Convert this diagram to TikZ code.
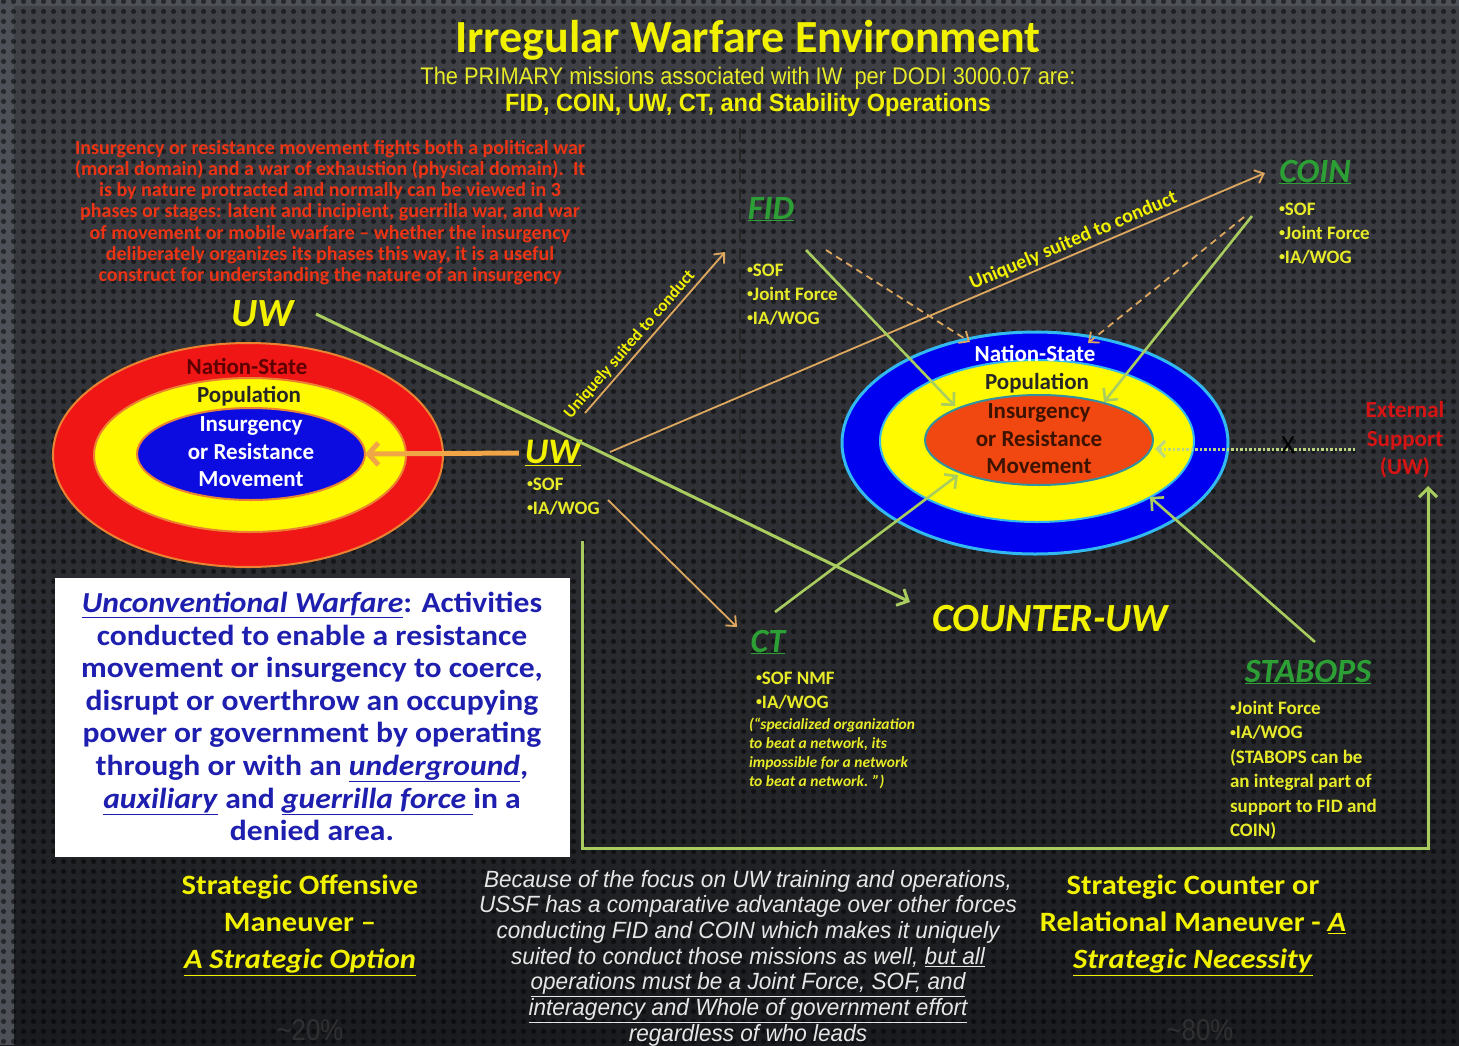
\documentclass[tikz,border=0pt]{standalone}
\usepackage{fontspec}
\setmainfont{Carlito}
\newfontfamily\narrowfont[FakeStretch=0.86]{Liberation Sans}
\newfontfamily\subfont[FakeStretch=0.91]{Liberation Sans}
\newfontfamily\subbfont[FakeStretch=0.94]{Liberation Sans}
\newfontfamily\midfont[FakeStretch=0.96]{Liberation Sans}
\newfontfamily\widecarl[FakeStretch=1.09]{Carlito}
\usetikzlibrary{arrows.meta,shapes.geometric,patterns.meta}
\definecolor{bgtop}{RGB}{64,66,72}
\definecolor{bgbot}{RGB}{26,27,30}
\definecolor{edgegray}{RGB}{78,80,88}
\definecolor{ylw}{RGB}{242,242,0}
\definecolor{pylw}{RGB}{232,236,40}
\definecolor{grn}{RGB}{44,160,52}
\definecolor{lgrn}{RGB}{170,205,95}
\definecolor{tanc}{RGB}{222,168,95}
\definecolor{redtxt}{RGB}{236,52,20}
\definecolor{extred}{RGB}{215,20,20}
\definecolor{boxblue}{RGB}{30,30,175}
\definecolor{lred}{RGB}{240,22,22}
\definecolor{lorange}{RGB}{235,130,50}
\definecolor{yfill}{RGB}{255,250,0}
\definecolor{bfill}{RGB}{12,12,225}
\definecolor{rblue}{RGB}{0,0,240}
\definecolor{skyb}{RGB}{50,185,240}
\definecolor{rorange}{RGB}{240,72,16}
\definecolor{tealb}{RGB}{50,145,160}
\definecolor{maroon}{RGB}{95,0,0}
\definecolor{brownd}{RGB}{60,18,0}
\definecolor{uworange}{RGB}{240,165,70}
\definecolor{greytxt}{RGB}{230,230,230}
\definecolor{pct}{RGB}{48,48,50}
\newcommand{\bul}{\raisebox{2.5pt}{\fontsize{12}{12}\selectfont\textbullet}}
\tikzdeclarepattern{
  name=bgdots,
  type=uncolored,
  bounding box={(0pt,0pt) and (10pt,10pt)},
  tile size={(10pt,10pt)},
  code={\fill (5pt,5pt) circle (2.8pt);}
}
\tikzset{
  txt/.style={inner sep=0pt, outer sep=0pt},
  mission/.style={txt, text=grn, font=\fontsize{34}{36}\selectfont\bfseries\itshape},
  bullets/.style={txt, text=pylw, align=left, anchor=north west, font=\fontsize{19}{24}\selectfont\bfseries},
  ring/.style={ellipse, inner sep=0pt, outer sep=0pt},
  ringtxt/.style={txt, font=\fontsize{23}{24}\selectfont\bfseries},
  garrow/.style={draw=lgrn, line width=3pt, -{Straight Barb[length=9pt,width=18pt]}},
  oarrow/.style={draw=tanc, line width=1.8pt, -{Straight Barb[length=8pt,width=14pt]}},
  darrow/.style={draw=tanc, line width=1.8pt, dash pattern=on 7pt off 5pt, -{Straight Barb[length=8pt,width=14pt]}},
  rotlabel/.style={txt, text=ylw, font=\bfseries},
  strat/.style={txt, text=ylw, align=center, anchor=north, font=\widecarl\fontsize{28}{37}\selectfont\bfseries},
}
\begin{document}
\begin{tikzpicture}[x=1pt,y=-1pt]
\useasboundingbox (0,0) rectangle (1459,1045);
% background
\shade[top color=bgtop, bottom color=bgbot] (0,0) rectangle (1459,1045);
\fill[edgegray] (0,0) rectangle (14,1045);
\fill[edgegray] (0,0) rectangle (1459,6);
\fill[pattern=bgdots, pattern color=black, opacity=0.5] (0,0) rectangle (1459,1045);
\draw[black!85, line width=1.5pt, dash pattern=on 14pt off 6pt] (740,128) -- (740,870);

% title
\node[txt, text=ylw, font=\fontsize{46}{50}\selectfont\bfseries] (title) at (748,40) {Irregular Warfare Environment};
\node[txt, text=pylw, font=\subfont\fontsize{24}{26}\selectfont] (sub1) at (748,78) {The PRIMARY missions associated with IW\ \ per DODI 3000.07 are:};
\node[txt, text=ylw, font=\subbfont\fontsize{25}{26}\selectfont\bfseries] (sub2) at (748,105) {FID, COIN, UW, CT, and Stability Operations};

% red paragraph
\node[txt, text=redtxt, align=center, anchor=north, font=\fontsize{20}{21.3}\selectfont\bfseries] (para) at (330,140) {Insurgency or resistance movement fights both a political war\\(moral domain) and a war of exhaustion (physical domain).\ \ It\\is by nature protracted and normally can be viewed in 3\\phases or stages: latent and incipient, guerrilla war, and war\\of movement or mobile warfare – whether the insurgency\\deliberately organizes its phases this way, it is a useful\\construct for understanding the nature of an insurgency};

% left ellipses
\node[ring, draw=lorange, line width=2pt, fill=lred, minimum width=390pt, minimum height=224pt] (lout) at (248,455) {};
\node[ring, draw=lorange, line width=2pt, fill=yfill, minimum width=312pt, minimum height=154pt] (lmid) at (250,455) {};
\node[ring, draw=lorange, line width=2pt, fill=bfill, minimum width=228pt, minimum height=92pt] (lin) at (251,454) {};
\node[ringtxt, text=maroon] (lns) at (247,366) {Nation-State};
\node[ringtxt, text=black!85] (lpop) at (249,396) {Population};
\node[ringtxt, text=white, align=center, font=\fontsize{23}{27.5}\selectfont\bfseries] (lins) at (251,452) {Insurgency\\or Resistance\\Movement};

% right ellipses
\node[ring, draw=skyb, line width=3pt, fill=rblue, minimum width=386pt, minimum height=222pt] (rout) at (1035,443) {};
\node[ring, draw=skyb, line width=2pt, fill=yfill, minimum width=314pt, minimum height=162pt] (rmid) at (1037,441) {};
\node[ring, draw=tealb, line width=2pt, fill=rorange, minimum width=228pt, minimum height=90pt] (rin) at (1039,440) {};
\node[ringtxt, text=white] (rns) at (1035,353) {Nation-State};
\node[ringtxt, text=black!85] (rpop) at (1037,383) {Population};
\node[ringtxt, text=brownd, align=center, font=\fontsize{23}{27.5}\selectfont\bfseries] (rins) at (1039,439) {Insurgency\\or Resistance\\Movement};

% UW labels
\node[txt, text=ylw, font=\fontsize{40}{42}\selectfont\bfseries\itshape] (uwtop) at (263,314) {UW};
\node[txt, text=ylw, font=\fontsize{36}{38}\selectfont\bfseries\itshape] (uwmid) at (553,453) {\underline{UW}};
\node[bullets] (uwlist) at (527,478) {\bul SOF\\\bul IA/WOG};

% FID
\node[mission] (fid) at (771,209) {\underline{FID}};
\node[bullets] (fidlist) at (747,264) {\bul SOF\\\bul Joint Force\\\bul IA/WOG};
% COIN
\node[mission] (coin) at (1315,172) {\underline{COIN}};
\node[bullets] (coinlist) at (1279,203) {\bul SOF\\\bul Joint Force\\\bul IA/WOG};
% CT
\node[mission] (ct) at (768,642) {\underline{CT}};
\node[bullets] (ctlist) at (756,672) {\bul SOF NMF\\\bul IA/WOG};
\node[txt, text=pylw, align=left, anchor=north west, font=\fontsize{15.5}{19}\selectfont\bfseries\itshape] (ctnote) at (749,718) {(“specialized organization\\to beat a network, its\\impossible for a network\\to beat a network. ”)};
% STABOPS
\node[mission] (stab) at (1308,672) {\underline{STABOPS}};
\node[bullets, font=\fontsize{19}{24.5}\selectfont\bfseries] (stablist) at (1230,701) {\bul Joint Force\\\bul IA/WOG\\(STABOPS can be\\an integral part of\\support to FID and\\COIN)};

% COUNTER-UW
\node[txt, text=ylw, font=\fontsize{40}{42}\selectfont\bfseries\itshape] (cuw) at (1050,619) {COUNTER-UW};

% External support
\node[txt, text=extred, align=center, font=\fontsize{23}{28.5}\selectfont\bfseries] (ext) at (1405,440) {External\\Support\\(UW)};

% white box
\node[txt, fill=white, minimum width=515pt, minimum height=279pt] (wbox) at (312.5,717.5) {};
\node[txt, text=boxblue, align=center, anchor=north, font=\widecarl\fontsize{29}{32.6}\selectfont\bfseries] (wtext) at (312,592) {\underline{\textit{Unconventional Warfare}}: Activities\\conducted to enable a resistance\\movement or insurgency to coerce,\\disrupt or overthrow an occupying\\power or government by operating\\through or with an \underline{\textit{underground}},\\\underline{\textit{auxiliary}} and \underline{\textit{guerrilla force }}in a\\denied area.};

% bottom texts
\node[strat] (bleft) at (300,875) {Strategic Offensive\\Maneuver –\\\underline{\textit{A Strategic Option}}};
\node[strat] (bright) at (1193,875) {Strategic Counter or\\Relational Maneuver - \underline{\textit{A}}\\\underline{\textit{Strategic Necessity}}};
\node[txt, text=greytxt, align=center, anchor=north, font=\midfont\fontsize{23.5}{25.7}\selectfont\itshape] (bmid) at (748,870) {Because of the focus on UW training and operations,\\USSF has a comparative advantage over other forces\\conducting FID and COIN which makes it uniquely\\suited to conduct those missions as well, \underline{but all}\\\underline{operations must be a Joint Force, SOF, and}\\\underline{interagency and Whole of government effort}\\\underline{regardless of who leads}};
\node[txt, text=pct, font=\narrowfont\fontsize{30}{32}\selectfont] (p20) at (310,1030) {\textasciitilde 20\%};
\node[txt, text=pct, font=\narrowfont\fontsize{30}{32}\selectfont] (p80) at (1200,1030) {\textasciitilde 80\%};

% connector end coordinates
\coordinate (uwtopA) at (316,314);
\coordinate (cuwA) at (910,602);
\coordinate (uwm1) at (585,413);
\coordinate (fidA) at (725,252);
\coordinate (uwm2) at (610,452);
\coordinate (coinA) at (1265,173);
\coordinate (uwm3) at (608,500);
\coordinate (ctA) at (737,627);
\coordinate (fid1) at (806,250);
\coordinate (rin1) at (955,406);
\coordinate (fid2) at (826,250);
\coordinate (rout1) at (970,342);
\coordinate (coin1) at (1244,217);
\coordinate (rout2) at (1088,343);
\coordinate (coin2) at (1252,216);
\coordinate (rin2) at (1104,402);
\coordinate (ct1) at (775,612);
\coordinate (rin3) at (958,475);
\coordinate (stab1) at (1315,642);
\coordinate (rmid1) at (1150,497);
\coordinate (ext1) at (1355,449);
\coordinate (rin4) at (1155,449);
\coordinate (gstart) at (582,541);
\coordinate (extA) at (1428,486);

% connectors
\draw[garrow] (uwtopA) -- (cuwA);
\draw[oarrow] (uwm1) -- (fidA) node[rotlabel, font=\fontsize{17}{18}\selectfont\bfseries, pos=0.38, above=4pt, sloped] {Uniquely suited to conduct};
\draw[oarrow] (uwm2) -- (coinA) node[rotlabel, font=\fontsize{20}{22}\selectfont\bfseries, pos=0.715, above=4pt, sloped] {Uniquely suited to conduct};
\draw[oarrow] (uwm3) -- (ctA);
\draw[draw=uworange, line width=5pt, -{Straight Barb[length=10pt,width=22pt]}] (uwmid.west) ++(-6,0) -- (lin.east);
\draw[garrow, line width=2.6pt] (fid1) -- (rin1);
\draw[darrow] (fid2) -- (rout1);
\draw[darrow] (coin1) -- (rout2);
\draw[garrow, line width=2.6pt] (coin2) -- (rin2);
\draw[garrow, line width=2.6pt] (ct1) -- (rin3);
\draw[garrow, line width=2.6pt] (stab1) -- (rmid1);
\draw[draw=lgrn!80!white, line width=3pt, dash pattern=on 2.5pt off 2pt, -{Straight Barb[length=8pt,width=16pt]}] (ext1) -- (rin4);
\node[txt, text=black, font=\fontsize{26}{28}\selectfont] (xmark) at (1288,445) {X};
\draw[garrow] (gstart) -- (582,848) -- (1428,848) -- (extA);
\end{tikzpicture}
\end{document}
